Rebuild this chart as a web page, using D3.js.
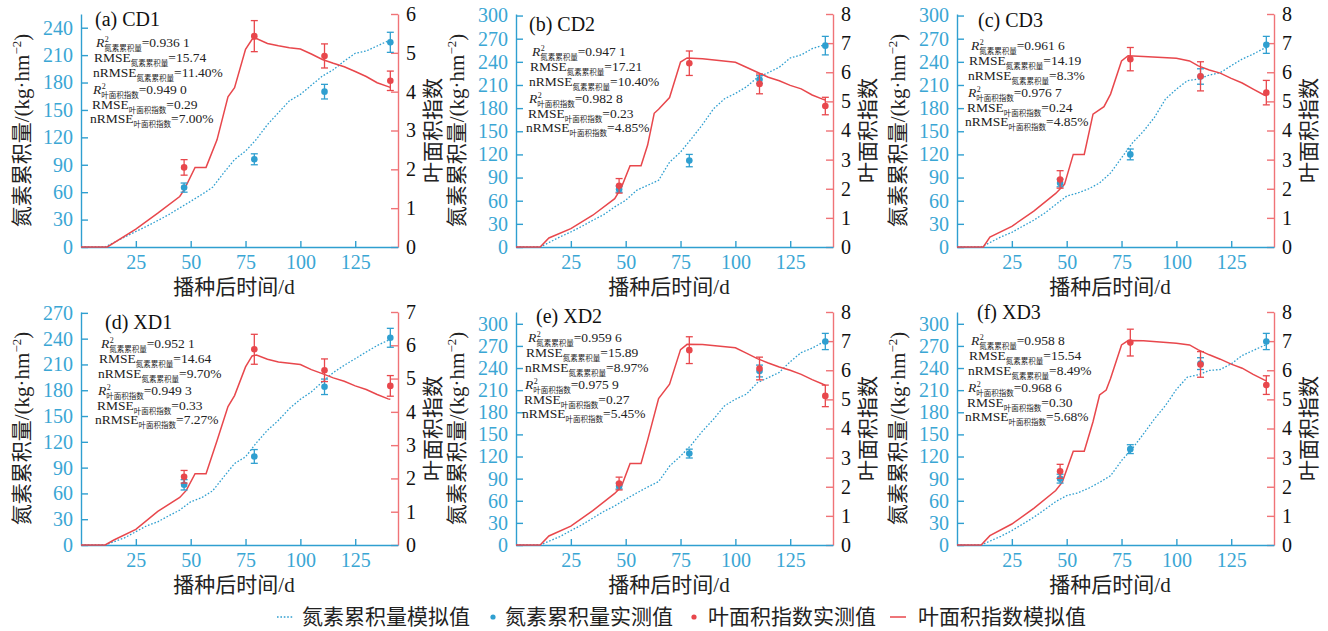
<!DOCTYPE html>
<html>
<head>
<meta charset="utf-8">
<script src="https://cdn.jsdelivr.net/npm/d3@7"></script>
<style>
  body { margin: 0; background: #fff; }
  .serif { font-family: "Liberation Serif", "Noto Sans CJK SC", serif; }
  .stat { font-family: "Liberation Serif", serif; font-size: 13.5px; fill: #222; }
  .sub { font-family: "Noto Sans CJK SC", sans-serif; font-size: 7.5px; fill: #222; }
  .sup { font-family: "Liberation Serif", serif; font-size: 8px; fill: #222; }
</style>
</head>
<body>
<svg id="chart" width="1328" height="631"></svg>
<script>
// ---- data ----
const obsDays = [47, 79, 111, 141];

const simNDays = [0, 11, 20, 25, 30, 35, 40, 45, 50, 55, 60, 65, 70, 75, 80, 85, 90, 95, 100, 105, 110, 115, 120, 125, 130, 135, 140, 141];
const simN_CD1 = [0, 0, 11, 17, 22.7, 29, 35.4, 42.8, 50, 57.4, 65.4, 81, 95.7, 105, 118, 134, 147, 160, 167, 177, 187, 194, 203.5, 212, 214.5, 220, 225.5, 226];
const simN_CD2 = [0, 0, 13, 19.5, 26.8, 34.6, 42, 52, 60.5, 73.5, 80, 86.5, 110, 123, 140.5, 158.6, 179, 192, 199, 207.5, 219.6, 226, 233, 245, 249, 257, 261.5, 262];
const simN_CD3 = [0, 0, 13, 19, 27, 34.7, 44, 55, 66, 70, 75.4, 83, 96, 115.7, 135, 150, 168, 191.6, 204.6, 215.5, 217.6, 222.8, 226, 235, 243.6, 250, 257.5, 258];
const simN_XD1 = [0, 0, 8.5, 15.5, 22.4, 27, 34, 40.6, 50.3, 55, 63, 79, 94.8, 102.5, 119, 133.5, 145, 158.7, 169.5, 178, 189.6, 200.5, 209, 216.7, 224.5, 232, 238, 239];
const simN_XD2 = [0, 0, 11.4, 19.5, 27.3, 36.4, 45.5, 53, 62, 70.5, 78.6, 86, 107, 120.5, 136, 154.5, 170.5, 188.6, 197.7, 204.5, 220, 227, 234, 248.6, 261, 267, 275, 275.5];
const simN_XD3 = [0, 0, 11.8, 19.5, 28.5, 37.6, 48, 58.8, 67, 70.6, 77, 85, 94, 114.5, 131, 150.7, 171, 189, 211, 227.6, 230.8, 236.7, 238, 245.7, 257, 263.8, 270.6, 271];

const laiDays_CD1 = [0, 12, 25, 35, 45, 47, 52, 57, 62, 67, 70, 75, 78, 80, 85, 90, 95, 100, 105, 110, 115, 120, 125, 130, 135, 140, 141];
const lai_CD1 = [0, 0, 0.46, 0.87, 1.3, 1.47, 2.05, 2.05, 2.76, 3.87, 4.1, 5.09, 5.35, 5.37, 5.24, 5.18, 5.13, 5.1, 4.97, 4.83, 4.73, 4.64, 4.52, 4.39, 4.23, 4.13, 4.11];
const laiDays_CD2 = [0, 11, 15, 25, 35, 45, 48, 52, 57, 60, 63, 65, 70, 75, 78, 85, 100, 105, 110, 115, 120, 125, 130, 135, 140, 141];
const lai_CD2 = [0, 0, 0.31, 0.63, 1.09, 1.66, 2.04, 2.79, 2.79, 3.5, 4.59, 4.73, 5.13, 6.35, 6.49, 6.46, 6.34, 6.17, 6.0, 5.83, 5.71, 5.55, 5.43, 5.22, 5.07, 5.05];
const laiDays_CD3 = [0, 12, 15, 25, 35, 45, 49, 53, 58, 62, 67, 70, 75, 78, 85, 100, 106, 110, 115, 120, 125, 130, 135, 140, 141];
const lai_CD3 = [0, 0, 0.34, 0.71, 1.23, 1.84, 2.15, 3.18, 3.18, 4.56, 4.82, 5.25, 6.39, 6.57, 6.54, 6.48, 6.39, 6.22, 6.08, 5.97, 5.79, 5.63, 5.42, 5.22, 5.19];
const laiDays_XD1 = [0, 11, 15, 25, 35, 45, 48, 52, 57, 62, 67, 70, 75, 78, 80, 85, 90, 100, 105, 110, 115, 120, 125, 130, 135, 140, 141];
const lai_XD1 = [0, 0, 0.15, 0.47, 1.01, 1.43, 1.64, 2.14, 2.14, 3.13, 4.16, 4.49, 5.35, 5.68, 5.71, 5.58, 5.5, 5.42, 5.27, 5.15, 5.02, 4.92, 4.78, 4.67, 4.52, 4.39, 4.38];
const laiDays_XD2 = [0, 11, 15, 25, 35, 45, 48, 52, 57, 60, 65, 70, 75, 78, 85, 100, 105, 110, 115, 120, 125, 130, 135, 140, 141];
const lai_XD2 = [0, 0, 0.31, 0.65, 1.18, 1.77, 2.0, 2.8, 2.8, 3.6, 5.03, 5.52, 6.71, 6.89, 6.88, 6.77, 6.59, 6.4, 6.25, 6.11, 6.0, 5.86, 5.68, 5.52, 5.49];
const laiDays_XD3 = [0, 11, 15, 25, 35, 45, 48, 53, 58, 62, 65, 68, 70, 75, 78, 85, 100, 106, 110, 115, 120, 125, 130, 135, 140, 141];
const lai_XD3 = [0, 0, 0.32, 0.72, 1.26, 1.87, 2.16, 3.22, 3.22, 4.23, 5.15, 5.32, 5.72, 6.87, 7.02, 7.01, 6.93, 6.87, 6.7, 6.53, 6.38, 6.21, 6.07, 5.86, 5.67, 5.64];

const obsN_CD1 = [65, 96, 170, 224],   obsNErr_CD1 = [5, 6, 8, 11];
const obsN_CD2 = [75, 112, 217, 261],  obsNErr_CD2 = [4, 8, 5, 12];
const obsN_CD3 = [83, 120, 221, 262],  obsNErr_CD3 = [5, 7, 10, 11];
const obsN_XD1 = [70, 103, 184, 241],  obsNErr_XD1 = [6, 8, 9, 11];
const obsN_XD2 = [80, 124, 236, 276],  obsNErr_XD2 = [4, 6, 8, 11];
const obsN_XD3 = [90, 130, 246, 276],  obsNErr_XD3 = [6, 6, 8, 11];

const obsLAI_CD1 = [2.05, 5.43, 4.92, 4.28], obsLAIErr_CD1 = [0.2, 0.4, 0.31, 0.25];
const obsLAI_CD2 = [2.1, 6.31, 5.6, 4.84],   obsLAIErr_CD2 = [0.25, 0.42, 0.34, 0.3];
const obsLAI_CD3 = [2.32, 6.45, 5.86, 5.3],  obsLAIErr_CD3 = [0.3, 0.4, 0.5, 0.42];
const obsLAI_XD1 = [2.05, 5.88, 5.25, 4.78], obsLAIErr_XD1 = [0.19, 0.45, 0.34, 0.31];
const obsLAI_XD2 = [2.11, 6.69, 6.06, 5.12], obsLAIErr_XD2 = [0.22, 0.46, 0.39, 0.37];
const obsLAI_XD3 = [2.53, 6.95, 6.2, 5.49],  obsLAIErr_XD3 = [0.24, 0.46, 0.44, 0.32];

const titles = ["(a) CD1", "(b) CD2", "(c) CD3", "(d) XD1", "(e) XD2", "(f) XD3"];
const leftMax = [255, 302, 302, 271, 316, 316];
const leftTickMax = [240, 300, 300, 270, 300, 300];
const rightMax = [6, 8, 8, 7, 8, 8];
const xTicks = [25, 50, 75, 100, 125];

const statR2N = ["0.936 1", "0.947 1", "0.961 6", "0.952 1", "0.959 6", "0.958 8"];
const statRmseN = ["15.74", "17.21", "14.19", "14.64", "15.89", "15.54"];
const statNrmseN = ["11.40%", "10.40%", "8.3%", "9.70%", "8.97%", "8.49%"];
const statR2L = ["0.949 0", "0.982 8", "0.976 7", "0.949 3", "0.975 9", "0.968 6"];
const statRmseL = ["0.29", "0.23", "0.24", "0.33", "0.27", "0.30"];
const statNrmseL = ["7.00%", "4.85%", "4.85%", "7.27%", "5.45%", "5.68%"];

const legendLabels = ["氮素累积量模拟值", "氮素累积量实测值", "叶面积指数实测值", "叶面积指数模拟值"];

// ---- layout ----
const blue = "#2f9fd0", blueTxt = "#3aa6d4";
const red = "#e8474c", redAxis = "#f07377";
const colLeft = [81, 516, 957], plotW = 317;
const rowTop = [14, 312], rowBottom = [247, 545];
const titlePos = [[14, 12], [13, 17], [21, 13], [24, 17], [20, 11], [20, 7]];
const statPos = [[15, 33], [16, 42], [14, 36], [20, 36], [12, 30], [14, 33]];
const lineDy = [0, 15, 30, 47, 62, 76];
const lineDx = [0, -2, -3, -3, -4, -6];

const simN = [simN_CD1, simN_CD2, simN_CD3, simN_XD1, simN_XD2, simN_XD3];
const laiDays = [laiDays_CD1, laiDays_CD2, laiDays_CD3, laiDays_XD1, laiDays_XD2, laiDays_XD3];
const lai = [lai_CD1, lai_CD2, lai_CD3, lai_XD1, lai_XD2, lai_XD3];
const obsN = [obsN_CD1, obsN_CD2, obsN_CD3, obsN_XD1, obsN_XD2, obsN_XD3];
const obsNErr = [obsNErr_CD1, obsNErr_CD2, obsNErr_CD3, obsNErr_XD1, obsNErr_XD2, obsNErr_XD3];
const obsLAI = [obsLAI_CD1, obsLAI_CD2, obsLAI_CD3, obsLAI_XD1, obsLAI_XD2, obsLAI_XD3];
const obsLAIErr = [obsLAIErr_CD1, obsLAIErr_CD2, obsLAIErr_CD3, obsLAIErr_XD1, obsLAIErr_XD2, obsLAIErr_XD3];

const svg = d3.select("#chart");

function statLine(g, x, y, lead, italic, sup, sub, value) {
  const t1 = g.append("text").attr("class", "stat").attr("x", x).attr("y", y)
    .style("font-style", italic ? "italic" : "normal").text(lead);
  const w = t1.node().getComputedTextLength();
  if (sup) g.append("text").attr("class", "sup").attr("x", x + w + 0.5).attr("y", y - 5).text(sup);
  const t3 = g.append("text").attr("class", "sub").attr("x", x + w).attr("y", y + 3.5).text(sub);
  const ws = t3.node().getComputedTextLength();
  g.append("text").attr("class", "stat").attr("x", x + w + ws).attr("y", y).text(value);
}

for (let i = 0; i < 6; i++) {
  const L = colLeft[i % 3], R = L + plotW;
  const T = rowTop[Math.floor(i / 3)], B = rowBottom[Math.floor(i / 3)];
  const g = svg.append("g");

  const x = d3.scaleLinear().domain([0, 144.5]).range([L, R]);
  const yL = d3.scaleLinear().domain([0, leftMax[i]]).range([B, T]);
  const yR = d3.scaleLinear().domain([0, rightMax[i]]).range([B, T]);

  // axes
  const ax = g.append("g").attr("transform", `translate(${L},0)`)
    .call(d3.axisLeft(yL).tickValues(d3.range(0, leftTickMax[i] + 1, 30))
      .tickSizeInner(-7).tickSizeOuter(0).tickPadding(8));
  ax.selectAll("path, line").attr("stroke", blue).attr("stroke-width", 1.4);
  ax.selectAll("text").attr("fill", blueTxt).attr("class", "serif").style("font-size", "20px");

  const axr = g.append("g").attr("transform", `translate(${R},0)`)
    .call(d3.axisRight(yR).tickValues(d3.range(0, rightMax[i] + 1))
      .tickFormat(d3.format("d"))
      .tickSizeInner(-7).tickSizeOuter(0).tickPadding(8));
  axr.selectAll("path, line").attr("stroke", redAxis).attr("stroke-width", 1.4);
  axr.selectAll("text").attr("fill", "#111").attr("class", "serif").style("font-size", "20px");

  const axb = g.append("g").attr("transform", `translate(0,${B})`)
    .call(d3.axisBottom(x).tickValues(xTicks).tickSizeInner(-6).tickSizeOuter(0).tickPadding(8));
  axb.selectAll("path, line").attr("stroke", blue).attr("stroke-width", 1.4);
  axb.selectAll("text").attr("fill", blueTxt).attr("class", "serif").style("font-size", "20px");

  // axis titles
  g.append("text").attr("class", "serif")
    .attr("transform", `translate(${L - 52},${(T + B) / 2}) rotate(-90)`)
    .attr("text-anchor", "middle").style("font-size", "21px").attr("fill", "#222")
    .text("氮素累积量/(kg·hm")
    .append("tspan").attr("dy", -8).style("font-size", "13px").text("−2")
    .select(function () { return this.parentNode; })
    .append("tspan").attr("dy", 8).text(")");

  g.append("text").attr("class", "serif")
    .attr("transform", `translate(${R + 42},${(T + B) / 2}) rotate(-90)`)
    .attr("text-anchor", "middle").style("font-size", "21px").attr("fill", "#222")
    .text("叶面积指数");

  g.append("text").attr("class", "serif")
    .attr("x", L + 153).attr("y", B + 47)
    .attr("text-anchor", "middle").style("font-size", "21px").attr("fill", "#222")
    .text("播种后时间/d");

  // simulated lines
  const nLine = d3.line().x((d, k) => x(simNDays[k])).y(d => yL(d));
  g.append("path").datum(simN[i]).attr("d", nLine)
    .attr("fill", "none").attr("stroke", blue).attr("stroke-width", 1.3)
    .attr("stroke-dasharray", "1.6,1.8");

  const lLine = d3.line().x((d, k) => x(laiDays[i][k])).y(d => yR(d));
  g.append("path").datum(lai[i]).attr("d", lLine)
    .attr("fill", "none").attr("stroke", red).attr("stroke-width", 1.5);

  // observed points with error bars
  function marks(vals, errs, ys, col) {
    const m = g.append("g").selectAll("g").data(vals).enter().append("g");
    m.append("line").attr("x1", (d, k) => x(obsDays[k])).attr("x2", (d, k) => x(obsDays[k]))
      .attr("y1", (d, k) => ys(d - errs[k])).attr("y2", (d, k) => ys(d + errs[k]))
      .attr("stroke", col).attr("stroke-width", 1.3);
    [-1, 1].forEach(s => {
      m.append("line").attr("x1", (d, k) => x(obsDays[k]) - 3.5).attr("x2", (d, k) => x(obsDays[k]) + 3.5)
        .attr("y1", (d, k) => ys(d + s * errs[k])).attr("y2", (d, k) => ys(d + s * errs[k]))
        .attr("stroke", col).attr("stroke-width", 1.3);
    });
    m.append("circle").attr("cx", (d, k) => x(obsDays[k])).attr("cy", d => ys(d))
      .attr("r", 3.3).attr("fill", col);
  }
  marks(obsN[i], obsNErr[i], yL, blue);
  marks(obsLAI[i], obsLAIErr[i], yR, red);

  // titles and statistics
  g.append("text").attr("class", "serif").attr("x", L + titlePos[i][0]).attr("y", T + titlePos[i][1])
    .style("font-size", "20px").attr("fill", "#111").text(titles[i]);

  const sx = L + statPos[i][0], sy = T + statPos[i][1];
  statLine(g, sx + lineDx[0], sy + lineDy[0], "R", true, "2", "氮素累积量", "=" + statR2N[i]);
  statLine(g, sx + lineDx[1], sy + lineDy[1], "RMSE", false, null, "氮素累积量", "=" + statRmseN[i]);
  statLine(g, sx + lineDx[2], sy + lineDy[2], "nRMSE", false, null, "氮素累积量", "=" + statNrmseN[i]);
  statLine(g, sx + lineDx[3], sy + lineDy[3], "R", true, "2", "叶面积指数", "=" + statR2L[i]);
  statLine(g, sx + lineDx[4], sy + lineDy[4], "RMSE", false, null, "叶面积指数", "=" + statRmseL[i]);
  statLine(g, sx + lineDx[5], sy + lineDy[5], "nRMSE", false, null, "叶面积指数", "=" + statNrmseL[i]);
}

// legend
const lg = svg.append("g");
const ly = 617;
lg.append("line").attr("x1", 277).attr("x2", 294).attr("y1", ly).attr("y2", ly)
  .attr("stroke", blue).attr("stroke-width", 1.3).attr("stroke-dasharray", "1.6,1.8");
lg.append("circle").attr("cx", 493).attr("cy", ly).attr("r", 2.6).attr("fill", blue);
lg.append("circle").attr("cx", 694).attr("cy", ly).attr("r", 2.6).attr("fill", red);
lg.append("line").attr("x1", 890).attr("x2", 906).attr("y1", ly).attr("y2", ly)
  .attr("stroke", red).attr("stroke-width", 1.5);
const legendX = [302, 505, 708, 918];
lg.selectAll("text.lgt").data(legendLabels).enter().append("text")
  .attr("class", "serif").attr("x", (d, k) => legendX[k]).attr("y", ly + 7)
  .style("font-size", "21px").attr("fill", "#222").text(d => d);
</script>
</body>
</html>
